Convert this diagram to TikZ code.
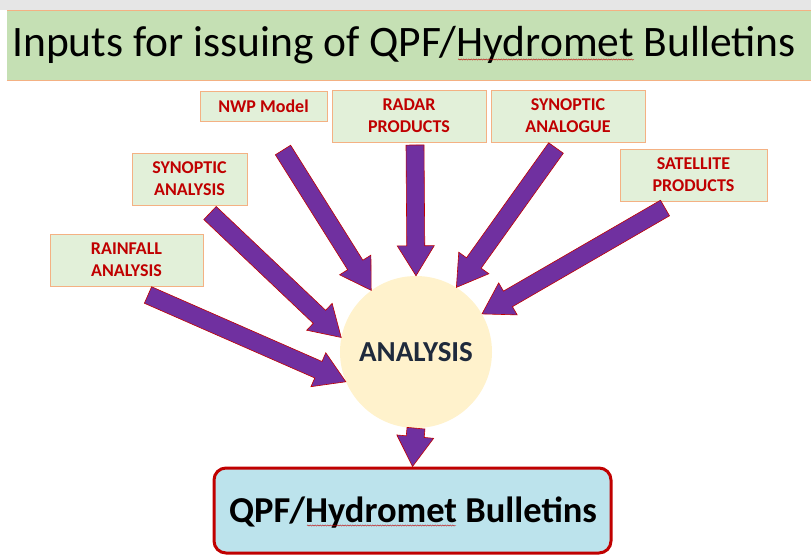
\documentclass[tikz,border=0pt]{standalone}
\usepackage{fontspec}
\setmainfont{Carlito}
\usepackage{tikz}
\usetikzlibrary{calc, decorations.pathmorphing}
\definecolor{qpfgrey}{HTML}{E6E6E6}
\definecolor{qpfgreen}{HTML}{C5E0B4}
\definecolor{qpforange}{HTML}{F4B183}
\definecolor{qpflight}{HTML}{E2F0D9}
\definecolor{qpfred}{HTML}{C00000}
\definecolor{qpfpurple}{HTML}{7030A0}
\definecolor{qpfcream}{HTML}{FFF2CC}
\definecolor{qpfnavy}{HTML}{1F2A3C}
\definecolor{qpfwater}{HTML}{BCE3EC}

\begin{document}
\begin{tikzpicture}[
  x=1pt, y=-1pt,
  inbox/.style={rectangle, draw=qpforange, fill=qpflight, line width=0.8pt, minimum height=52pt, inner sep=0pt, align=center, text=qpfred, font=\fontsize{18}{22}\selectfont\bfseries},
  blockarr/.style={fill=qpfpurple, draw=qpfred, line width=0.6pt, line join=miter, to path={
    let \p1=($(\tikztotarget)-(\tikztostart)$), \n1={atan2(\y1,\x1)}, \n2={veclen(\x1,\y1)-30pt} in
    ($(\tikztostart)+({\n1+90}:9pt)$)
    -- ($(\tikztostart)+({\n1}:\n2)+({\n1+90}:9pt)$)
    -- ($(\tikztostart)+({\n1}:\n2)+({\n1+90}:18.5pt)$)
    -- (\tikztotarget)
    -- ($(\tikztostart)+({\n1}:\n2)+({\n1-90}:18.5pt)$)
    -- ($(\tikztostart)+({\n1}:\n2)+({\n1-90}:9pt)$)
    -- ($(\tikztostart)+({\n1-90}:9pt)$) -- cycle}},
  squig/.style={qpfred, line width=0.4pt, decorate, decoration={snake, amplitude=0.6pt, segment length=2.5pt}}
]
\useasboundingbox (0,0) rectangle (811,558);

% title bar
\fill[qpfgrey] (0,0) rectangle (811,10);
\node[fill=qpfgreen, minimum width=804pt, minimum height=69pt, inner sep=0pt] (bar) at (409,45.5) {};
\draw[qpforange, line width=1.2pt] (bar.north west) -- (bar.north east);
\draw[qpforange, line width=1.2pt] (bar.south west) -- (bar.south east);
\node[anchor=base, font=\fontsize{43.5}{52}\selectfont] (title) at (404,56) {Inputs for issuing of QPF/Hydromet Bulletins};
\draw[squig] (458,59.5) -- (634,59.5);

% inputs
\node[inbox, minimum width=127pt, minimum height=30pt] (nwp) at (263.5,106) {NWP Model};
\node[inbox, minimum width=154pt] (radar) at (409,116) {RADAR\\PRODUCTS};
\node[inbox, minimum width=154pt] (analog) at (568,116) {SYNOPTIC\\ANALOGUE};
\node[inbox, minimum width=115pt] (synan) at (189.5,179) {SYNOPTIC\\ANALYSIS};
\node[inbox, minimum width=147pt] (sat) at (693.5,175) {SATELLITE\\PRODUCTS};
\node[inbox, minimum width=153pt] (rain) at (126.5,260) {RAINFALL\\ANALYSIS};

% analysis and output
\node[circle, fill=qpfcream, minimum size=152pt, inner sep=0pt, text=qpfnavy, font=\fontsize{29}{34}\selectfont\bfseries] (ana) at (416,352) {ANALYSIS};
\node[rectangle, rounded corners=12pt, draw=qpfred, line width=3pt, fill=qpfwater, minimum width=397pt, minimum height=85pt] (bull) at (412.5,510.5) {};
\node[anchor=base, font=\fontsize{36.5}{44}\selectfont\bfseries] (bulltxt) at (413,522) {QPF/Hydromet Bulletins};
\draw[squig] (307,525.5) -- (456,525.5);

% arrow tails
\coordinate (train) at (148,295);
\coordinate (tsynan) at (210,213);
\coordinate (tnwp) at (283,150);
\coordinate (tradar) at (415,145);
\coordinate (tanalog) at (556,148);
\coordinate (tsat) at (665,208);

\draw[blockarr] (train) to (ana.203);
\draw[blockarr] (tsynan) to (ana.169);
\draw[blockarr] (tnwp) to (ana.126);
\draw[blockarr] (tradar) to (ana.90);
\draw[blockarr] (tanalog) to (ana.58);
\draw[blockarr] (tsat) to (ana.30);
\draw[blockarr] (ana.south) to (bull.north);

\end{tikzpicture}
\end{document}
